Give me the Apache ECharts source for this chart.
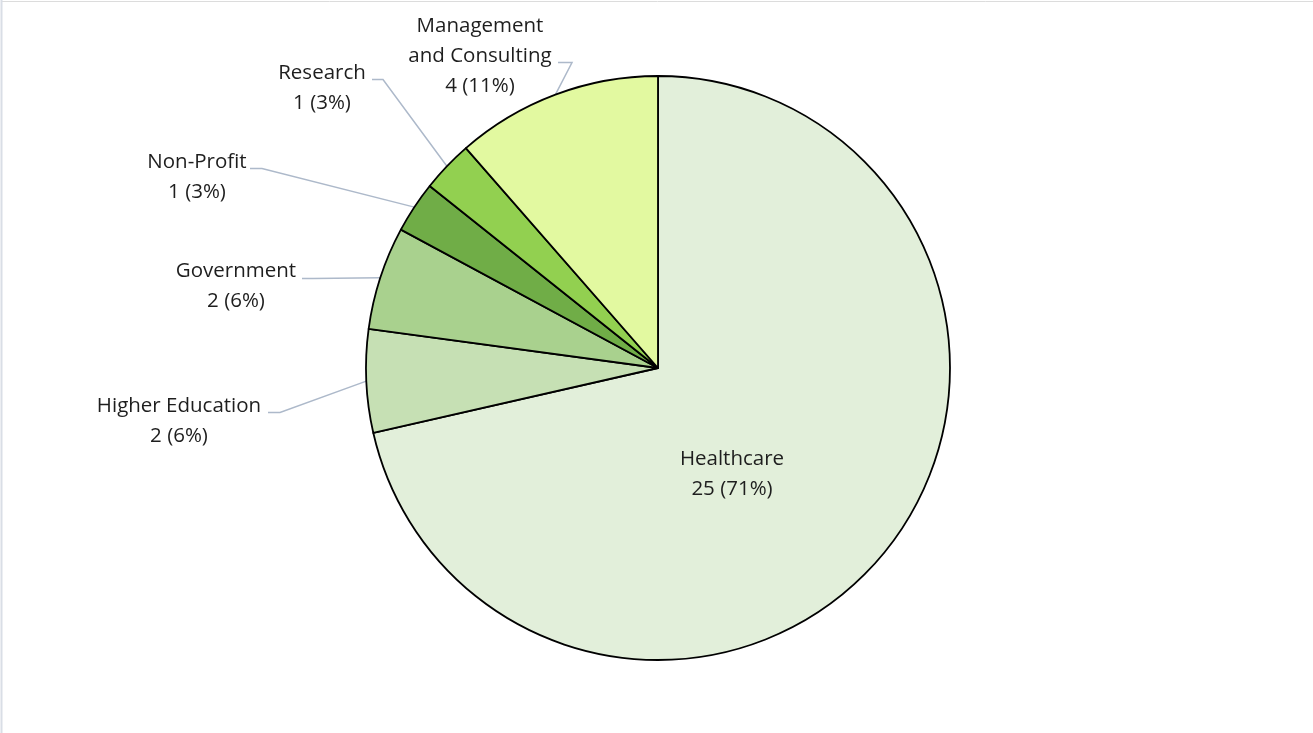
<!DOCTYPE html>
<html><head><meta charset="utf-8">
<script src="https://cdn.jsdelivr.net/npm/echarts@6/dist/echarts.min.js"></script>
<style>html,body{margin:0;padding:0;background:#fff}#c{width:1313px;height:733px}</style>
</head><body><div id="c"></div>
<script>
// ---- data ----
const categories = ['Healthcare', 'Higher Education', 'Government', 'Non-Profit', 'Research', 'Management and Consulting'];
const counts = [25, 2, 2, 1, 1, 4];
const sliceColors = ['#E2EFDA', '#C6E0B4', '#A9D18E', '#70AD47', '#92D050', '#E2F9A0'];

// ---- label layout (styling) ----
const labelSpots = [
  { x: 732, y: 474 },
  { x: 179, y: 421, elbow: [280, 412.5], end: [268, 412.5] },
  { x: 236, y: 286, elbow: [313, 278.5], end: [302, 278.5] },
  { x: 197, y: 177.5, elbow: [262, 168.5], end: [250, 168.5] },
  { x: 322, y: 88, elbow: [383, 79.5], end: [372, 79.5] },
  { x: 480, y: 56, elbow: [572, 62.5], end: [558, 62.5] }
];

function wrapName(n) {
  if (n.length > 20) {
    const i = n.indexOf(' ');
    return n.slice(0, i) + '\n' + n.slice(i + 1);
  }
  return n;
}

const chart = echarts.init(document.getElementById('c'), null, { renderer: 'canvas' });
chart.setOption({
  animation: false,
  graphic: [
    { type: 'line', shape: { x1: 2, y1: 1.5, x2: 1313, y2: 1.5 }, style: { stroke: '#DCDCDC', lineWidth: 1 }, silent: true },
    { type: 'line', shape: { x1: 1.5, y1: 0, x2: 1.5, y2: 733 }, style: { stroke: '#D9DEE6', lineWidth: 2 }, silent: true }
  ],
  series: [{
    type: 'pie',
    center: [658, 368],
    radius: 292,
    startAngle: 90,
    clockwise: true,
    avoidLabelOverlap: false,
    percentPrecision: 0,
    emphasis: { disabled: true },
    itemStyle: { borderColor: '#000', borderWidth: 1.8 },
    label: {
      show: true,
      position: 'outside',
      formatter: p => wrapName(p.name) + '\n' + p.value + ' (' + p.percent + '%)',
      fontFamily: 'Open Sans',
      fontSize: 20.5,
      lineHeight: 30,
      color: '#1E1E1E',
      align: 'center'
    },
    labelLine: { show: true, lineStyle: { color: '#ADB9CA', width: 1.5 } },
    labelLayout: function (p) {
      const s = labelSpots[p.dataIndex];
      const out = { x: s.x, y: s.y, align: 'center', verticalAlign: 'middle' };
      if (s.end && p.labelLinePoints) {
        out.labelLinePoints = [p.labelLinePoints[0], s.elbow, s.end];
      }
      return out;
    },
    data: categories.map((n, i) => ({
      name: n,
      value: counts[i],
      itemStyle: { color: sliceColors[i] },
      label: i === 0 ? { position: 'inside' } : {},
      labelLine: i === 0 ? { show: false } : {}
    }))
  }]
});
</script>
</body></html>
